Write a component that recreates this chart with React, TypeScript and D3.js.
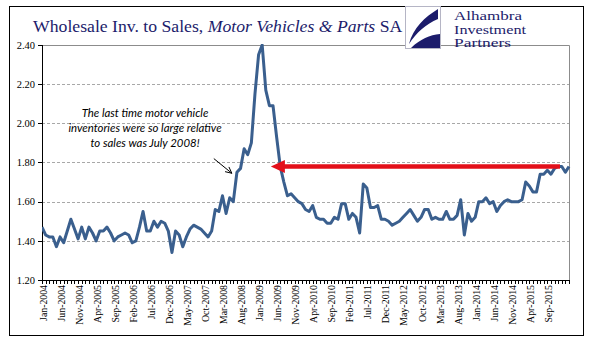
import React, { useEffect, useRef } from 'react'
import * as d3 from 'd3'

// Monthly inventory/sales ratio, Jan-2004 .. Mar-2016
const ratios = [
  1.47, 1.43, 1.42, 1.42, 1.37, 1.42, 1.39, 1.45, 1.51, 1.46, 1.41, 1.47,
  1.41, 1.47, 1.44, 1.40, 1.45, 1.45, 1.47, 1.44, 1.40, 1.42, 1.43, 1.44,
  1.43, 1.39, 1.40, 1.47, 1.55, 1.45, 1.45, 1.50, 1.47, 1.50, 1.49, 1.45,
  1.34, 1.45, 1.43, 1.37, 1.42, 1.46, 1.48, 1.47, 1.46, 1.44, 1.42, 1.45,
  1.56, 1.55, 1.63, 1.54, 1.62, 1.60, 1.75, 1.77, 1.87, 1.84, 1.90, 2.15,
  2.35, 2.40, 2.17, 2.09, 2.09, 1.93, 1.78, 1.70, 1.63, 1.64, 1.62, 1.60,
  1.59, 1.56, 1.55, 1.58, 1.52, 1.51, 1.51, 1.49, 1.49, 1.52, 1.51, 1.59,
  1.59, 1.51, 1.54, 1.52, 1.44, 1.69, 1.67, 1.57, 1.57, 1.58, 1.51, 1.51,
  1.50, 1.48, 1.49, 1.50, 1.52, 1.54, 1.56, 1.53, 1.50, 1.52, 1.56, 1.56,
  1.51, 1.52, 1.51, 1.51, 1.55, 1.51, 1.51, 1.53, 1.61, 1.43, 1.54, 1.50,
  1.52, 1.60, 1.60, 1.62, 1.59, 1.60, 1.55, 1.58, 1.60, 1.61, 1.60, 1.60,
  1.60, 1.61, 1.70, 1.68, 1.65, 1.65, 1.74, 1.74, 1.76, 1.74, 1.77, 1.78,
  1.78, 1.75, 1.78
]

// every 5th month gets a label
const monthLabels = [
  'Jan-2004', 'Jun-2004', 'Nov-2004', 'Apr-2005', 'Sep-2005', 'Feb-2006',
  'Jul-2006', 'Dec-2006', 'May-2007', 'Oct-2007', 'Mar-2008', 'Aug-2008',
  'Jan-2009', 'Jun-2009', 'Nov-2009', 'Apr-2010', 'Sep-2010', 'Feb-2011',
  'Jul-2011', 'Dec-2011', 'May-2012', 'Oct-2012', 'Mar-2013', 'Aug-2013',
  'Jan-2014', 'Jun-2014', 'Nov-2014', 'Apr-2015', 'Sep-2015'
]
const labelStep = 5

const yTicks = [1.2, 1.4, 1.6, 1.8, 2.0, 2.2, 2.4]

const noteLines = [
  'The last time motor vehicle',
  'inventories were so large relative',
  'to sales was July 2008!'
]
const logoLines = ['Alhambra', 'Investment', 'Partners']
const logoWidths = [68, 72, 57]

// red arrow: level and month-index span
const arrowLevel = 1.78
const arrowSpan = [143.5, 63.4]
// black pointer arrow, in data units
const pointerFrom = [47.6, 1.82]
const pointerTo = [52.6, 1.745]

const navy = '#1c1c6b'
const lineBlue = '#3a5f8e'
const serif = 'Liberation Serif, Times New Roman, serif'

export default function App() {
  const svgRef = useRef<SVGSVGElement>(null)

  useEffect(() => {
    const svg = d3.select(svgRef.current)
    svg.selectAll('*').remove()

    const width = 596
    const height = 353
    const left = 42
    const right = 569
    const top = 45
    const bottom = 280

    svg.attr('width', width).attr('height', height)

    svg.append('rect')
      .attr('width', width).attr('height', height)
      .attr('fill', '#fff')

    // outer frame
    svg.append('rect')
      .attr('x', 9.5).attr('y', 6.5)
      .attr('width', 574).attr('height', 329)
      .attr('fill', 'none')
      .attr('stroke', '#000')
      .attr('stroke-width', 1)

    const x = d3.scaleLinear().domain([0, ratios.length - 1]).range([left, right])
    const y = d3.scaleLinear().domain([1.2, 2.4]).range([bottom, top])

    // gridlines
    svg.append('g')
      .selectAll('line')
      .data(yTicks.filter(t => t > 1.2 && t < 2.4))
      .join('line')
      .attr('x1', left).attr('x2', right)
      .attr('y1', d => Math.round(y(d)) + 0.5).attr('y2', d => Math.round(y(d)) + 0.5)
      .attr('stroke', '#a8a8a8')
      .attr('stroke-dasharray', '3,2')

    // plot area border (top + right)
    svg.append('path')
      .attr('d', `M${left},${Math.round(top) + 0.5}H${right + 0.5}V${bottom}`)
      .attr('fill', 'none')
      .attr('stroke', '#8c8c8c')

    // axes
    svg.append('line')
      .attr('x1', left + 0.5).attr('x2', left + 0.5)
      .attr('y1', top).attr('y2', bottom)
      .attr('stroke', '#000')
    svg.append('line')
      .attr('x1', left).attr('x2', right + 1)
      .attr('y1', bottom + 0.5).attr('y2', bottom + 0.5)
      .attr('stroke', '#000')

    svg.append('g')
      .selectAll('line')
      .data(yTicks)
      .join('line')
      .attr('x1', left - 4).attr('x2', left)
      .attr('y1', d => Math.round(y(d)) + 0.5).attr('y2', d => Math.round(y(d)) + 0.5)
      .attr('stroke', '#000')

    svg.append('g')
      .selectAll('text')
      .data(yTicks)
      .join('text')
      .attr('x', left - 7)
      .attr('y', d => y(d))
      .attr('dy', '0.35em')
      .attr('text-anchor', 'end')
      .attr('font-family', serif)
      .attr('font-size', 10.5)
      .text(d => d.toFixed(2))

    // monthly ticks
    svg.append('g')
      .selectAll('line')
      .data(d3.range(ratios.length))
      .join('line')
      .attr('x1', d => Math.round(x(d)) + 0.5).attr('x2', d => Math.round(x(d)) + 0.5)
      .attr('y1', bottom).attr('y2', bottom + 4)
      .attr('stroke', '#000')

    svg.append('g')
      .selectAll('text')
      .data(monthLabels)
      .join('text')
      .attr('transform', (d, i) => `translate(${x(i * labelStep) + 1},${bottom + 5}) rotate(-90)`)
      .attr('text-anchor', 'end')
      .attr('dominant-baseline', 'central')
      .attr('font-family', serif)
      .attr('font-size', 9.8)
      .text(d => d)

    // series
    svg.append('defs').append('clipPath').attr('id', 'plot-clip')
      .append('rect')
      .attr('x', left).attr('y', top - 1)
      .attr('width', right - left + 2).attr('height', bottom - top + 1)

    const line = d3.line<number>()
      .x((d, i) => x(i))
      .y(d => y(d))

    svg.append('path')
      .datum(ratios)
      .attr('clip-path', 'url(#plot-clip)')
      .attr('d', line)
      .attr('fill', 'none')
      .attr('stroke', lineBlue)
      .attr('stroke-width', 3)
      .attr('stroke-linejoin', 'round')

    // red arrow
    const ay = y(arrowLevel)
    const tipX = x(arrowSpan[1])
    svg.append('line')
      .attr('x1', x(arrowSpan[0])).attr('x2', tipX + 12)
      .attr('y1', ay).attr('y2', ay)
      .attr('stroke', '#e3101a')
      .attr('stroke-width', 4.5)
    svg.append('path')
      .attr('d', `M${tipX},${ay}L${tipX + 14},${ay - 6.5}L${tipX + 14},${ay + 6.5}Z`)
      .attr('fill', '#e3101a')

    // pointer arrow
    const px0 = x(pointerFrom[0]), py0 = y(pointerFrom[1])
    const px1 = x(pointerTo[0]), py1 = y(pointerTo[1])
    const ang = Math.atan2(py1 - py0, px1 - px0)
    const head = 7
    svg.append('path')
      .attr('d', `M${px0},${py0}L${px1},${py1}` +
        `M${px1 - head * Math.cos(ang - 0.45)},${py1 - head * Math.sin(ang - 0.45)}L${px1},${py1}` +
        `L${px1 - head * Math.cos(ang + 0.45)},${py1 - head * Math.sin(ang + 0.45)}`)
      .attr('fill', 'none')
      .attr('stroke', '#000')
      .attr('stroke-width', 1)

    // note
    svg.append('g')
      .selectAll('text')
      .data(noteLines)
      .join('text')
      .attr('x', 145)
      .attr('y', (d, i) => 117 + i * 15)
      .attr('text-anchor', 'middle')
      .attr('font-family', 'Lato, sans-serif')
      .attr('font-style', 'italic')
      .attr('font-size', 11.4)
      .text(d => d)

    // title
    const title = svg.append('text')
      .attr('x', 33)
      .attr('y', 32)
      .attr('font-family', serif)
      .attr('font-size', 17.7)
      .attr('fill', navy)
    title.append('tspan').text('Wholesale Inv. to Sales, ')
    title.append('tspan').attr('font-style', 'italic').text('Motor Vehicles & Parts')
    title.append('tspan').text(' SA')

    // logo
    const logo = svg.append('g')
    logo.append('rect')
      .attr('x', 405.5).attr('y', 6.5)
      .attr('width', 35).attr('height', 42)
      .attr('fill', '#fff')
      .attr('stroke', '#b5b5c5')
    logo.append('path')
      .attr('d', 'M438,9 C425,17 413,28 409,44 C416,33 426,24 438,19 Z')
      .attr('fill', navy)
    logo.append('path')
      .attr('d', 'M411,48 C420,39 430,35 440,34 L440,48 Z')
      .attr('fill', navy)

    // small, horizontally stretched wordmark lines
    logo.append('g')
      .selectAll('text')
      .data(logoLines)
      .join('text')
      .attr('x', 454)
      .attr('y', (d, i) => 20 + i * 13.6)
      .attr('font-family', serif)
      .attr('font-size', 12)
      .attr('fill', navy)
      .attr('textLength', (d, i) => logoWidths[i])
      .attr('lengthAdjust', 'spacingAndGlyphs')
      .text(d => d)
  }, [])

  return (
    <div style={{ position: 'absolute', left: 0, top: 0 }}>
      <svg ref={svgRef} style={{ display: 'block' }} />
    </div>
  )
}
